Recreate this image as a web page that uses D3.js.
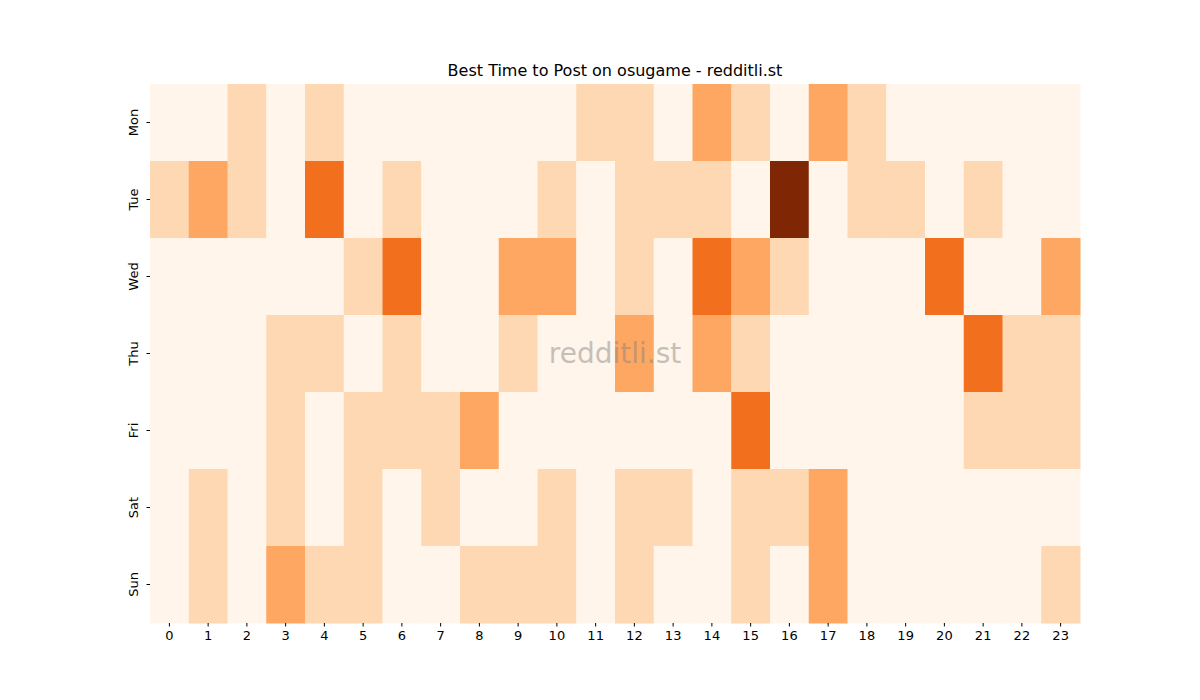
<!DOCTYPE html>
<html><head><meta charset="utf-8">
<script src="https://cdn.jsdelivr.net/npm/d3@7"></script>
<style>body{margin:0;background:#fff}text{font-family:"DejaVu Sans",sans-serif}</style>
</head><body>
<svg id="chart" width="1200" height="700"></svg>
<script>
// posting activity level per day (rows) and hour (cols)
var days = ['Mon', 'Tue', 'Wed', 'Thu', 'Fri', 'Sat', 'Sun']
var hours = d3.range(24)
var mon = [0,0,1,0,1,0,0,0,0,0,0,1,1,0,2,1,0,2,1,0,0,0,0,0]
var tue = [1,2,1,0,3,0,1,0,0,0,1,0,1,1,1,0,5,0,1,1,0,1,0,0]
var wed = [0,0,0,0,0,1,3,0,0,2,2,0,1,0,3,2,1,0,0,0,3,0,0,2]
var thu = [0,0,0,1,1,0,1,0,0,1,0,0,2,0,2,1,0,0,0,0,0,3,1,1]
var fri = [0,0,0,1,0,1,1,1,2,0,0,0,0,0,0,3,0,0,0,0,0,1,1,1]
var sat = [0,1,0,1,0,1,0,1,0,0,1,0,1,1,0,1,1,2,0,0,0,0,0,0]
var sun = [0,1,0,2,1,1,0,0,1,1,1,0,1,0,0,1,0,2,0,0,0,0,0,1]
var rows = [mon, tue, wed, thu, fri, sat, sun]

var margin = {top: 84, left: 150, right: 120, bottom: 77}
var W = 1200, H = 700
var svg = d3.select('#chart')

var xScale = d3.scaleBand().domain(hours).range([margin.left, W - margin.right])
var yScale = d3.scaleBand().domain(days).range([margin.top, H - margin.bottom])
var colour = d3.scaleSequential(d3.interpolateOranges).domain([0, 5])

var cells = []
rows.forEach(function(r, i) {
    r.forEach(function(v, h) { cells.push({day: days[i], hour: h, value: v}) })
})

svg.append('g').selectAll('rect')
.data(cells)
.enter()
.append('rect')
.attr('x', d => xScale(d.hour))
.attr('y', d => yScale(d.day))
.attr('width', xScale.bandwidth() + 0.5)
.attr('height', yScale.bandwidth() + 0.5)
.attr('fill', d => colour(d.value))

var xAxis = svg.append('g')
.attr('transform', 'translate(0,' + (H - margin.bottom) + ')')
.call(d3.axisBottom(xScale).tickSize(3.5).tickPadding(4))
xAxis.select('.domain').remove()
xAxis.selectAll('text').style('font-size', '13px').attr('fill', '#000')

var yAxis = svg.append('g')
.attr('transform', 'translate(' + margin.left + ',0)')
.call(d3.axisLeft(yScale).tickSize(3.5).tickPadding(4))
yAxis.select('.domain').remove()
yAxis.selectAll('text')
.style('font-size', '13px').attr('fill', '#000')
.attr('text-anchor', 'middle').attr('dy', 0)
.attr('transform', 'translate(-12,0) rotate(-90)').attr('x', 0)

svg.append('text')
.attr('x', (margin.left + W - margin.right) / 2).attr('y', 76)
.attr('text-anchor', 'middle').style('font-size', '16px')
.text('Best Time to Post on osugame - redditli.st')

svg.append('text')
.attr('x', 615).attr('y', 363)
.attr('text-anchor', 'middle').style('font-size', '28px')
.attr('fill', '#808080').attr('opacity', 0.45)
.text('redditli.st')
</script>
</body></html>
